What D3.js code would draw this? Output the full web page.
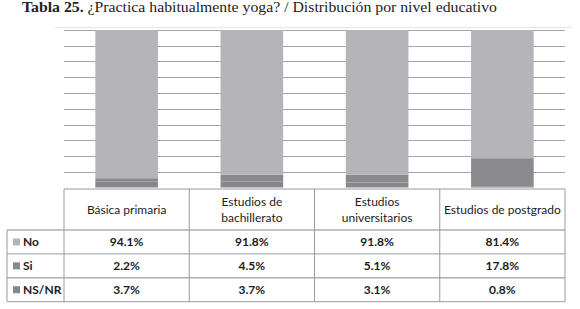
<!DOCTYPE html>
<html>
<head>
<meta charset="utf-8">
<script src="https://cdn.jsdelivr.net/npm/d3@7"></script>
<style>
  body { margin: 0; background: #fff; }
  svg { display: block; }
</style>
</head>
<body>
<div id="container"></div>
<script>
const width = 580;
const height = 309;

const categories = ["Básica primaria", "Estudios de bachillerato", "Estudios universitarios", "Estudios de postgrado"];
const headerLines = [["Básica primaria"], ["Estudios de", "bachillerato"], ["Estudios", "universitarios"], ["Estudios de postgrado"]];
const seriesNames = ["No", "Si", "NS/NR"];
const noValues = [94.1, 91.8, 91.8, 81.4];
const siValues = [2.2, 4.5, 5.1, 17.8];
const nsnrValues = [3.7, 3.7, 3.1, 0.8];
const gridTicks = [10, 20, 30, 40, 50, 60, 70, 80, 90, 100];

const colors = {"No": "#b5b5b9", "Si": "#8a8a8e", "NS/NR": "#87878b"};

const plotLeft = 64, plotRight = 565;
const plotTop = 30, plotBottom = 187.5;
const tableTop = 189, headerBottom = 230, rowH = 23.9, tableLeft = 7;

const valuesBySeries = {"No": noValues, "Si": siValues, "NS/NR": nsnrValues};
const data = categories.map((c, i) => ({cat: c, "No": noValues[i], "Si": siValues[i], "NS/NR": nsnrValues[i]}));

// stack bottom-up: NS/NR, Si, No
const series = d3.stack().keys(["NS/NR", "Si", "No"])(data);

const x = d3.scaleBand().domain(categories).range([plotLeft, plotRight])
  .paddingInner(0.5).paddingOuter(0.25);
const col = d3.scaleBand().domain(categories).range([plotLeft, plotRight]);
const y = d3.scaleLinear().domain([0, 100]).range([plotBottom, plotTop]);

const svg = d3.create("svg")
  .attr("width", width)
  .attr("height", height)
  .attr("viewBox", [0, 0, width, height]);

// title
const title = svg.append("text")
  .attr("x", 22).attr("y", 12)
  .attr("font-family", "Liberation Serif, serif")
  .attr("font-size", 14)
  .attr("fill", "#222")
  .attr("textLength", 475)
  .attr("lengthAdjust", "spacingAndGlyphs");
title.append("tspan").attr("font-weight", "bold").text("Tabla 25. ");
title.append("tspan").text("¿Practica habitualmente yoga? / Distribución por nivel educativo");

// faint frame line
svg.append("line")
  .attr("x1", 55).attr("x2", 572).attr("y1", 27.5).attr("y2", 27.5)
  .attr("stroke", "#e6e6e6");

// gridlines
svg.append("g")
  .selectAll("line")
  .data(gridTicks)
  .join("line")
    .attr("x1", plotLeft).attr("x2", plotRight)
    .attr("y1", d => Math.round(y(d)) + 0.5).attr("y2", d => Math.round(y(d)) + 0.5)
    .attr("stroke", "#9ba7b5")
    .attr("stroke-width", 1.2);

// bars
svg.append("g")
  .selectAll("g")
  .data(series)
  .join("g")
    .attr("fill", d => colors[d.key])
  .selectAll("rect")
  .data(d => d)
  .join("rect")
    .attr("x", d => x(d.data.cat))
    .attr("y", d => y(d[1]))
    .attr("width", x.bandwidth())
    .attr("height", d => y(d[0]) - y(d[1]));

// table
const table = svg.append("g")
  .attr("font-family", "Lato, sans-serif")
  .attr("font-size", 12)
  .attr("fill", "#1c1c1c");

const lineColor = "#9a9a9a";
const tableBottom = headerBottom + rowH * 3;

// horizontal lines
table.append("line")
  .attr("x1", plotLeft).attr("x2", plotRight).attr("y1", tableTop).attr("y2", tableTop)
  .attr("stroke", lineColor);
[0, 1, 2, 3].forEach(i => {
  const yy = headerBottom + rowH * i;
  table.append("line")
    .attr("x1", tableLeft).attr("x2", plotRight).attr("y1", yy).attr("y2", yy)
    .attr("stroke", i === 3 ? lineColor : "#a9b1bb").attr("stroke-width", i === 3 ? 1 : 1.4);
});

// vertical lines
table.append("line")
  .attr("x1", tableLeft).attr("x2", tableLeft).attr("y1", headerBottom).attr("y2", tableBottom)
  .attr("stroke", lineColor);
categories.forEach(c => {
  table.append("line")
    .attr("x1", col(c)).attr("x2", col(c)).attr("y1", tableTop).attr("y2", tableBottom)
    .attr("stroke", lineColor);
});
table.append("line")
  .attr("x1", plotRight).attr("x2", plotRight).attr("y1", tableTop).attr("y2", tableBottom)
  .attr("stroke", lineColor);

// headers
categories.forEach((c, i) => {
  const lines = headerLines[i];
  const cx = col(c) + col.bandwidth() / 2;
  const cy = (tableTop + headerBottom) / 2;
  lines.forEach((t, j) => {
    table.append("text")
      .attr("x", cx)
      .attr("y", cy + (j - (lines.length - 1) / 2) * 16)
      .attr("dy", "0.35em")
      .attr("text-anchor", "middle")
      .text(t);
  });
});

// rows
seriesNames.forEach((s, r) => {
  const cy = headerBottom + rowH * r + rowH / 2;
  table.append("rect")
    .attr("x", 13).attr("y", cy - 3.5).attr("width", 7).attr("height", 7)
    .attr("fill", colors[s]);
  table.append("text")
    .attr("x", 23).attr("y", cy).attr("dy", "0.35em")
    .attr("font-weight", "bold")
    .text(s);
  categories.forEach((c, i) => {
    table.append("text")
      .attr("x", col(c) + col.bandwidth() / 2)
      .attr("y", cy).attr("dy", "0.35em")
      .attr("text-anchor", "middle")
      .attr("font-weight", "bold")
      .text(valuesBySeries[s][i].toFixed(1) + "%");
  });
});

document.getElementById("container").appendChild(svg.node());
</script>
</body>
</html>
